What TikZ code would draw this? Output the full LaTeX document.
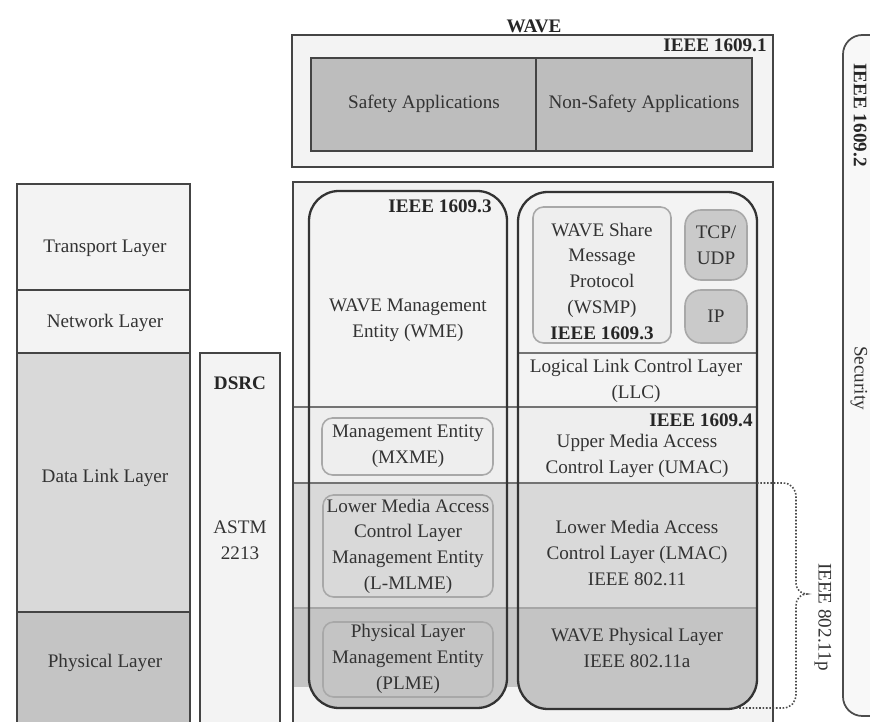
\documentclass[tikz,border=0pt]{standalone}
\usepackage{fontspec}
\setmainfont{Liberation Serif}
\begin{document}
\begin{tikzpicture}[x=0.02cm,y=-0.02cm]
\definecolor{lineC}{HTML}{444444}
\definecolor{softC}{HTML}{A8A8A8}
\definecolor{textC}{HTML}{333333}
\definecolor{bgL}{HTML}{F3F3F3}
\definecolor{bandA}{HTML}{EEEEEE}
\definecolor{bandB}{HTML}{D9D9D9}
\definecolor{bandC}{HTML}{C4C4C4}
\definecolor{appC}{HTML}{BDBDBD}
\definecolor{tcpC}{HTML}{CACACA}
\tikzset{
  box/.style={draw=lineC, line width=1pt},
  colbox/.style={draw=black!80, line width=1.3pt, rounded corners=17pt},
  ibox/.style={draw=softC, line width=0.9pt, rounded corners=6pt},
  pill/.style={draw=softC, line width=0.9pt, rounded corners=9pt, fill=tcpC},
  sep/.style={draw=black!55, line width=0.7pt},
  txt/.style={font=\fontsize{10.9}{14.6}\selectfont, align=center, text=textC, inner sep=0pt},
  btxt/.style={font=\fontsize{10.9}{14.6}\selectfont\bfseries, align=center, text=black!85, inner sep=0pt},
  brace/.style={draw=black!70, line width=0.9pt, densely dotted},
}
\clip (0,0) rectangle (870,722);
\fill[white] (0,0) rectangle (870,722);

% left OSI stack
\draw[box, fill=bgL] (17,184) rectangle (190,290);
\draw[box, fill=bgL] (17,290) rectangle (190,353);
\draw[box, fill=bandB] (17,353) rectangle (190,612);
\draw[box, fill=bandC] (17,612) rectangle (190,740);
\node[txt] (transport) at (105,248) {Transport Layer};
\node[txt] (network) at (105,323) {Network Layer};
\node[txt] (datalink) at (105,478) {Data Link Layer};
\node[txt] (physical) at (105,663) {Physical Layer};

% DSRC
\draw[box, fill=bgL] (200,353) rectangle (280,740);
\node[btxt] (dsrc) at (240,383) {DSRC};
\node[txt] (astm) at (240,540) {ASTM\\2213};

% WAVE top box
\node[btxt] (wave) at (534,26) {WAVE};
\draw[box, fill=bgL] (292,35) rectangle (773,167);
\node[btxt] (ieee1) at (715,45) {IEEE 1609.1};
\draw[box, fill=appC] (311,58) rectangle (752,151);
\draw[box] (536,58) -- (536,151);
\node[txt] (safety) at (424,104) {Safety Applications};
\node[txt] (nonsafety) at (644,104) {Non-Safety Applications};

% big lower box
\fill[bgL] (293,182) rectangle (773,740);
\fill[bandA] (293,407) rectangle (757,483);
\fill[bandB] (293,483) rectangle (757,608);
\fill[bandC] (293,608) rectangle (757,687);
\begin{scope}
  \clip (293,608) rectangle (773,740);
  \fill[bandC, rounded corners=17pt] (309,191) rectangle (507,708);
  \fill[bandC, rounded corners=17pt] (518,192) rectangle (757,709);
\end{scope}
\draw[sep] (293,407) -- (757,407);
\draw[sep] (293,483) -- (757,483);
\draw[draw=black!35, line width=0.6pt] (293,608) -- (757,608);
\draw[sep] (518,353) -- (757,353);
\draw[box, line width=1.3pt] (293,182) rectangle (773,740);

% columns
\draw[colbox] (309,191) rectangle (507,708);
\draw[colbox] (518,192) rectangle (757,709);

% left column content
\node[btxt] (ieee3a) at (440,206) {IEEE 1609.3};
\node[txt] (wme) at (408,320) {WAVE Management\\Entity (WME)};
\draw[ibox, fill=bandA] (322,418) rectangle (493,475);
\node[txt] (mxme) at (408,446) {Management Entity\\(MXME)};
\draw[ibox, fill=bandB] (323,495) rectangle (493,597);
\node[txt] (lmlme) at (408,546) {Lower Media Access\\Control Layer\\Management Entity\\(L-MLME)};
\draw[ibox, fill=bandC] (323,622) rectangle (493,697);
\node[txt] (plme) at (408,659) {Physical Layer\\Management Entity\\(PLME)};

% right column content
\draw[ibox, fill=bandA] (533,207) rectangle (671,343);
\node[txt] (wsmp) at (602,270) {WAVE Share\\Message\\Protocol\\(WSMP)};
\node[btxt] (ieee3b) at (602,333) {IEEE 1609.3};
\draw[pill] (685,210) rectangle (747,280);
\node[txt] (tcp) at (716,245) {TCP/\\UDP};
\draw[pill] (685,290) rectangle (747,343);
\node[txt] (ip) at (716,316) {IP};
\node[txt] (llc) at (636,381) {Logical Link Control Layer\\(LLC)};
\node[btxt] (ieee4) at (701,420) {IEEE 1609.4};
\node[txt] (umac) at (637,456) {Upper Media Access\\Control Layer (UMAC)};
\node[txt] (lmac) at (637,553) {Lower Media Access\\Control Layer (LMAC)\\IEEE 802.11};
\node[txt] (wphy) at (637,648) {WAVE Physical Layer\\IEEE 802.11a};

% 802.11p brace
\coordinate (bstart) at (757,483);
\coordinate (bend) at (733,708);
\draw[brace] (bstart) -- (783,483) .. controls (791,483) and (796,489) .. (796,497)
  -- (796,582) .. controls (796,590) and (801,594) .. (807,594)
  .. controls (801,594) and (796,598) .. (796,606)
  -- (796,694) .. controls (796,702) and (791,708) .. (783,708) -- (bend);
\node[txt, rotate=-90] (p80211) at (823,617) {IEEE 802.11p};

% security
\draw[draw=black!70, line width=1pt, fill=bgL!60!white, rounded corners=11pt] (843,35) rectangle (900,716);
\node[btxt, rotate=-90] (ieee2) at (860,115) {IEEE 1609.2};
\node[txt, rotate=-90] (security) at (859,378) {Security};
\end{tikzpicture}
\end{document}
